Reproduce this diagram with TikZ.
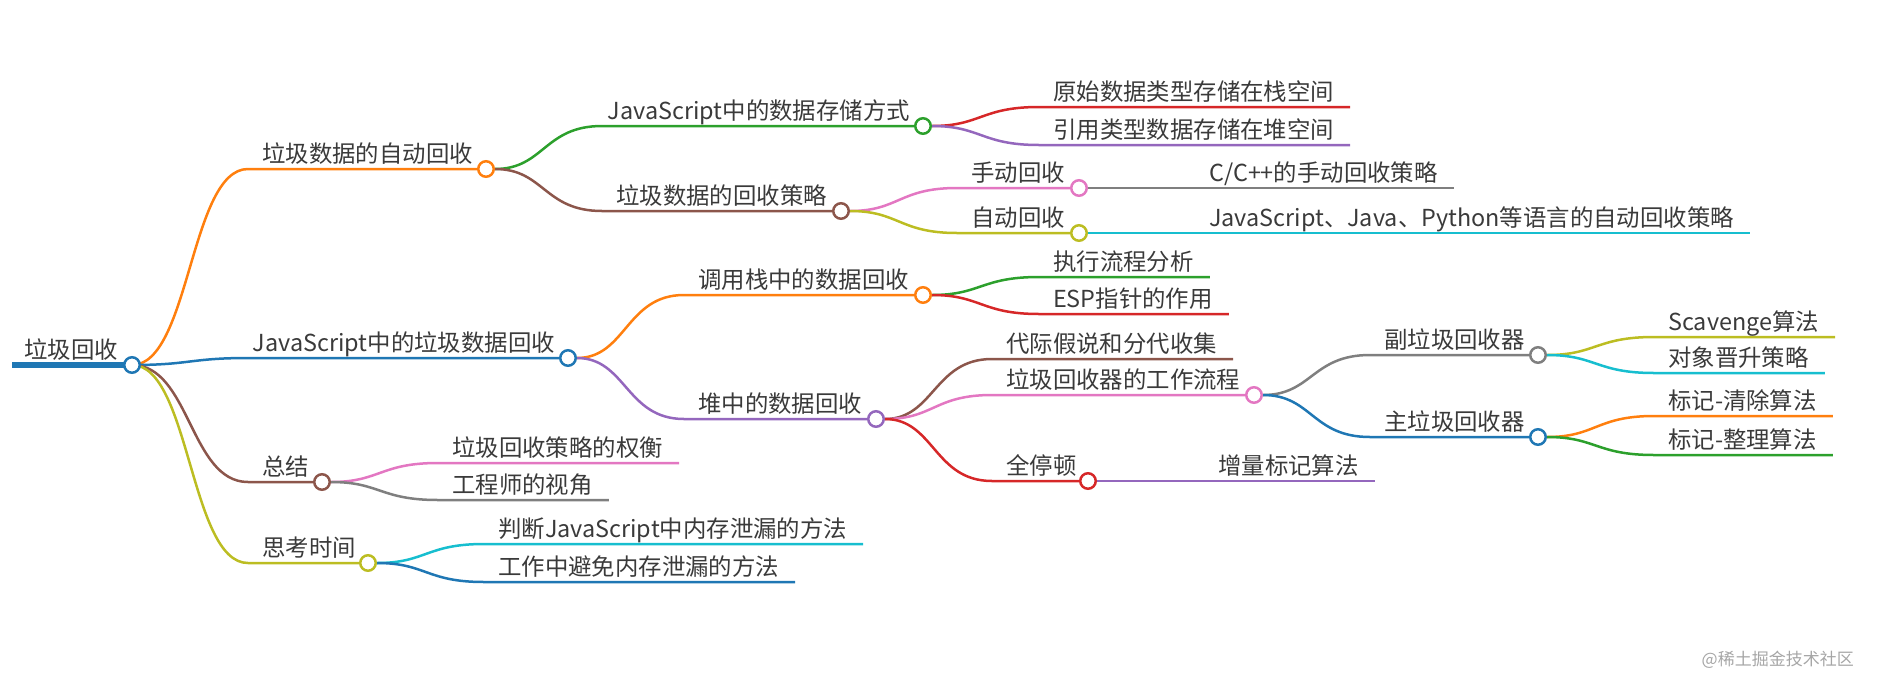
\documentclass[tikz,border=0pt]{standalone}
\usepackage{fontspec}
\setmainfont{Noto Sans CJK SC}
\usepackage{xcolor}
\usepackage{tikz}
\usetikzlibrary{backgrounds}
\definecolor{mmblue}{HTML}{1F77B4}
\definecolor{mmorange}{HTML}{FF7F0E}
\definecolor{mmgreen}{HTML}{2CA02C}
\definecolor{mmred}{HTML}{D62728}
\definecolor{mmpurple}{HTML}{9467BD}
\definecolor{mmbrown}{HTML}{8C564B}
\definecolor{mmpink}{HTML}{E377C2}
\definecolor{mmgray}{HTML}{7F7F7F}
\definecolor{mmolive}{HTML}{BCBD22}
\definecolor{mmcyan}{HTML}{17BECF}
\definecolor{txtgray}{HTML}{3A3A3A}

\begin{document}
\begin{tikzpicture}[x=1pt, y=-1pt,
      every node/.style={inner sep=0pt, text=txtgray,
                         font=\fontsize{23.4}{28}\selectfont},
      lbl/.style={anchor=base west},
      lblr/.style={anchor=base east},
      dot/.style={circle, draw=#1, fill=white, line width=2.5pt, minimum size=15.5pt},
      link/.style={draw=#1, line width=2.5pt}
    ]
      \useasboundingbox (0,0) rectangle (1882,678);

      % texts
      \node[lbl] (root)  at (24,358)   {垃圾回收};
      \node[lbl] (auto)  at (262,162)  {垃圾数据的自动回收};
      \node[lblr] (jsgc) at (555,351)  {JavaScript中的垃圾数据回收};
      \node[lbl] (summ)  at (262,475)  {总结};
      \node[lbl] (think) at (262,556)  {思考时间};
      \node[lblr] (store) at (910,119) {JavaScript中的数据存储方式};
      \node[lbl] (strat) at (616,204)  {垃圾数据的回收策略};
      \node[lbl] (stack) at (698,288)  {调用栈中的数据回收};
      \node[lbl] (heap)  at (698,412)  {堆中的数据回收};
      \node[lbl] (trade) at (452,456)  {垃圾回收策略的权衡};
      \node[lbl] (view)  at (452,493)  {工程师的视角};
      \node[lbl] (judge) at (498,537)  {判断JavaScript中内存泄漏的方法};
      \node[lbl] (avoid) at (498,575)  {工作中避免内存泄漏的方法};
      \node[lbl] (prim)  at (1053,100) {原始数据类型存储在栈空间};
      \node[lbl] (ref)   at (1053,138) {引用类型数据存储在堆空间};
      \node[lbl] (manual) at (971,181) {手动回收};
      \node[lbl] (autom) at (971,226)  {自动回收};
      \node[lbl] (flow)  at (1053,270) {执行流程分析};
      \node[lbl] (esp)   at (1053,307) {ESP指针的作用};
      \node[lbl] (gen)   at (1006,352) {代际假说和分代收集};
      \node[lbl] (work)  at (1006,388) {垃圾回收器的工作流程};
      \node[lbl] (stw)   at (1006,474) {全停顿};
      \node[lbl] (cpp)   at (1209,181) {C/C++的手动回收策略};
      \node[lbl] (lang)  at (1209,226) {JavaScript、Java、Python等语言的自动回收策略};
      \node[lbl] (incr)  at (1218,474) {增量标记算法};
      \node[lbl] (minor) at (1384,348) {副垃圾回收器};
      \node[lbl] (major) at (1384,430) {主垃圾回收器};
      \node[lbl] (scav)  at (1668,330) {Scavenge算法};
      \node[lbl] (promo) at (1668,366) {对象晋升策略};
      \node[lbl] (sweep) at (1668,409) {标记-清除算法};
      \node[lbl] (compact) at (1668,448) {标记-整理算法};

      % dots
      \node[dot=mmblue]   (root-d)  at (132,365)  {};
      \node[dot=mmorange] (auto-d)  at (486,169)  {};
      \node[dot=mmblue]   (jsgc-d)  at (568,358)  {};
      \node[dot=mmbrown]  (summ-d)  at (322,482)  {};
      \node[dot=mmolive]  (think-d) at (368,563)  {};
      \node[dot=mmgreen]  (store-d) at (923,126)  {};
      \node[dot=mmbrown]  (strat-d) at (841,211)  {};
      \node[dot=mmorange] (stack-d) at (923,295)  {};
      \node[dot=mmpurple] (heap-d)  at (876,419)  {};
      \node[dot=mmpink]   (manual-d) at (1079,188) {};
      \node[dot=mmolive]  (autom-d) at (1079,233) {};
      \node[dot=mmpink]   (work-d)  at (1254,395) {};
      \node[dot=mmred]    (stw-d)   at (1088,481) {};
      \node[dot=mmgray]   (minor-d) at (1538,355) {};
      \node[dot=mmblue]   (major-d) at (1538,437) {};

      % line starts
      \coordinate (root-s)  at (12,365);
      \coordinate (auto-s)  at (248,169);
      \coordinate (jsgc-s)  at (248,358);
      \coordinate (summ-s)  at (248,482);
      \coordinate (think-s) at (248,563);
      \coordinate (store-s) at (602,126);
      \coordinate (strat-s) at (602,211);
      \coordinate (stack-s) at (684,295);
      \coordinate (heap-s)  at (684,419);
      \coordinate (trade-s) at (438,463);
      \coordinate (view-s)  at (438,500);
      \coordinate (judge-s) at (484,544);
      \coordinate (avoid-s) at (484,582);
      \coordinate (prim-s)  at (1039,107);
      \coordinate (ref-s)   at (1039,145);
      \coordinate (manual-s) at (957,188);
      \coordinate (autom-s) at (957,233);
      \coordinate (flow-s)  at (1039,277);
      \coordinate (esp-s)   at (1039,314);
      \coordinate (gen-s)   at (992,359);
      \coordinate (work-s)  at (992,395);
      \coordinate (stw-s)   at (992,481);
      \coordinate (minor-s) at (1370,355);
      \coordinate (major-s) at (1370,437);
      \coordinate (scav-s)  at (1654,337);
      \coordinate (promo-s) at (1654,373);
      \coordinate (sweep-s) at (1654,416);
      \coordinate (compact-s) at (1654,455);

      % leaf ends
      \coordinate[xshift=16pt] (trade-e) at (trade.east |- trade-s);
      \coordinate[xshift=16pt] (view-e)  at (view.east |- view-s);
      \coordinate[xshift=16pt] (judge-e) at (judge.east |- judge-s);
      \coordinate[xshift=16pt] (avoid-e) at (avoid.east |- avoid-s);
      \coordinate[xshift=16pt] (prim-e)  at (prim.east |- prim-s);
      \coordinate[xshift=16pt] (ref-e)   at (ref.east |- ref-s);
      \coordinate[xshift=16pt] (flow-e)  at (flow.east |- flow-s);
      \coordinate[xshift=16pt] (esp-e)   at (esp.east |- esp-s);
      \coordinate[xshift=16pt] (gen-e)   at (gen.east |- gen-s);
      \coordinate[xshift=16pt] (cpp-e)   at (cpp.east |- manual-d);
      \coordinate[xshift=16pt] (lang-e)  at (lang.east |- autom-d);
      \coordinate[xshift=16pt] (incr-e)  at (incr.east |- stw-d);
      \coordinate[xshift=16pt] (scav-e)  at (scav.east |- scav-s);
      \coordinate[xshift=16pt] (promo-e) at (promo.east |- promo-s);
      \coordinate[xshift=16pt] (sweep-e) at (sweep.east |- sweep-s);
      \coordinate[xshift=16pt] (compact-e) at (compact.east |- compact-s);

      \begin{scope}[on background layer]
        \draw[link=mmblue, line width=5.5pt] (root-s) -- (root-d.center);
        % level 1
        \draw[link=mmorange] (root-d.center) .. controls +(58,0) and +(-58,0) .. (auto-s) -- (auto-d);
        \draw[link=mmblue]   (root-d.center) .. controls +(58,0) and +(-58,0) .. (jsgc-s) -- (jsgc-d);
        \draw[link=mmbrown]  (root-d.center) .. controls +(58,0) and +(-58,0) .. (summ-s) -- (summ-d);
        \draw[link=mmolive]  (root-d.center) .. controls +(58,0) and +(-58,0) .. (think-s) -- (think-d);
        % level 2
        \draw[link=mmgreen]  (auto-d) .. controls +(58,0) and +(-58,0) .. (store-s) -- (store-d);
        \draw[link=mmbrown]  (auto-d) .. controls +(58,0) and +(-58,0) .. (strat-s) -- (strat-d);
        \draw[link=mmorange] (jsgc-d) .. controls +(58,0) and +(-58,0) .. (stack-s) -- (stack-d);
        \draw[link=mmpurple] (jsgc-d) .. controls +(58,0) and +(-58,0) .. (heap-s) -- (heap-d);
        \draw[link=mmpink]   (summ-d) .. controls +(58,0) and +(-58,0) .. (trade-s) -- (trade-e);
        \draw[link=mmgray]   (summ-d) .. controls +(58,0) and +(-58,0) .. (view-s) -- (view-e);
        \draw[link=mmcyan]   (think-d) .. controls +(58,0) and +(-58,0) .. (judge-s) -- (judge-e);
        \draw[link=mmblue]   (think-d) .. controls +(58,0) and +(-58,0) .. (avoid-s) -- (avoid-e);
        % level 3
        \draw[link=mmred]    (store-d) .. controls +(58,0) and +(-58,0) .. (prim-s) -- (prim-e);
        \draw[link=mmpurple] (store-d) .. controls +(58,0) and +(-58,0) .. (ref-s) -- (ref-e);
        \draw[link=mmpink]   (strat-d) .. controls +(58,0) and +(-58,0) .. (manual-s) -- (manual-d);
        \draw[link=mmolive]  (strat-d) .. controls +(58,0) and +(-58,0) .. (autom-s) -- (autom-d);
        \draw[link=mmgreen]  (stack-d) .. controls +(58,0) and +(-58,0) .. (flow-s) -- (flow-e);
        \draw[link=mmred]    (stack-d) .. controls +(58,0) and +(-58,0) .. (esp-s) -- (esp-e);
        \draw[link=mmbrown]  (heap-d) .. controls +(58,0) and +(-58,0) .. (gen-s) -- (gen-e);
        \draw[link=mmpink]   (heap-d) .. controls +(58,0) and +(-58,0) .. (work-s) -- (work-d);
        \draw[link=mmred]    (heap-d) .. controls +(58,0) and +(-58,0) .. (stw-s) -- (stw-d);
        % level 4
        \draw[link=mmgray]   (manual-d) -- (cpp-e);
        \draw[link=mmcyan]   (autom-d) -- (lang-e);
        \draw[link=mmpurple] (stw-d) -- (incr-e);
        \draw[link=mmgray]   (work-d) .. controls +(58,0) and +(-58,0) .. (minor-s) -- (minor-d);
        \draw[link=mmblue]   (work-d) .. controls +(58,0) and +(-58,0) .. (major-s) -- (major-d);
        % level 5
        \draw[link=mmolive]  (minor-d) .. controls +(58,0) and +(-58,0) .. (scav-s) -- (scav-e);
        \draw[link=mmcyan]   (minor-d) .. controls +(58,0) and +(-58,0) .. (promo-s) -- (promo-e);
        \draw[link=mmorange] (major-d) .. controls +(58,0) and +(-58,0) .. (sweep-s) -- (sweep-e);
        \draw[link=mmgreen]  (major-d) .. controls +(58,0) and +(-58,0) .. (compact-s) -- (compact-e);
      \end{scope}

      \node[anchor=base east, text=black!35, font=\fontsize{17}{20}\selectfont] (mark) at (1854,665) {@稀土掘金技术社区};
    \end{tikzpicture}
\end{document}
